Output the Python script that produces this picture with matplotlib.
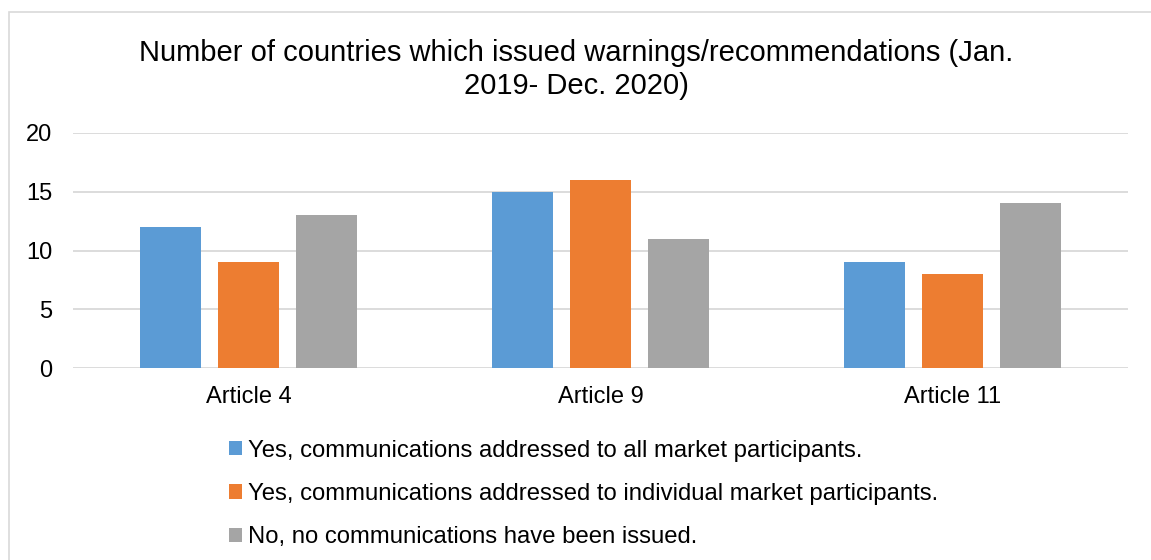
import matplotlib
matplotlib.use("Agg")
import matplotlib.pyplot as plt
from matplotlib.patches import Rectangle
import numpy as np

plt.rcParams['font.family'] = ['Liberation Sans', 'DejaVu Sans']

# Values per article
articles = ['Article 4', 'Article 9', 'Article 11']
series_names = [
    'Yes, communications addressed to all market participants.',
    'Yes, communications addressed to individual market participants.',
    'No, no communications have been issued.',
]
all_participants = [12, 15, 9]
individual_participants = [9, 16, 8]
no_communications = [13, 11, 14]
series_values = [all_participants, individual_participants, no_communications]
colors = ['#5B9BD5', '#ED7D31', '#A5A5A5']
title = 'Number of countries which issued warnings/recommendations (Jan.\n2019- Dec. 2020)'

W, H = 1151, 560
fig = plt.figure(figsize=(W / 100, H / 100), dpi=100)

# light frame around the chart area
fig.add_artist(Rectangle((8.5 / W, -0.1), 1.2, 1.1 - 11.5 / H,
                         transform=fig.transFigure, fill=False,
                         edgecolor='#d9d9d9', lw=1.2))

ax = fig.add_axes([73 / W, (H - 368.3) / H, (1128 - 73) / W, (368.3 - 132.7) / H])

x = np.arange(len(articles))
bar_w = 0.1735
step = 0.2218
bars = []
for i, (vals, col, name) in enumerate(zip(series_values, colors, series_names)):
    b = ax.bar(x + (i - 1) * step, vals, width=bar_w, color=col, label=name, zorder=3)
    bars.append(b)

ax.set_xlim(-0.5, len(articles) - 0.5)
ax.set_ylim(0, 20)
ax.set_yticks(range(0, 21, 5))
ax.set_xticks(x)
ax.set_xticklabels(articles)
ax.grid(axis='y', color='#d9d9d9', lw=1.3, zorder=0)
ax.set_axisbelow(True)
for s in ax.spines.values():
    s.set_visible(False)
ax.tick_params(axis='both', length=0, labelsize=17, colors='black')
ax.tick_params(axis='y', pad=15)
ax.tick_params(axis='x', pad=13)

fig.text(576 / W, (H - 69.5) / H, title, ha='center', va='center',
         fontsize=21, linespacing=1.25)

fig.legend(handles=bars, labels=series_names, loc='upper left',
           bbox_to_anchor=(229 / W, (H - 439.5) / H), frameon=False,
           fontsize=17.2, handlelength=0.55, handleheight=0.55,
           handletextpad=0.25, labelspacing=0.9, borderpad=0, borderaxespad=0)

fig.savefig('out.png', dpi=100, facecolor='white')
